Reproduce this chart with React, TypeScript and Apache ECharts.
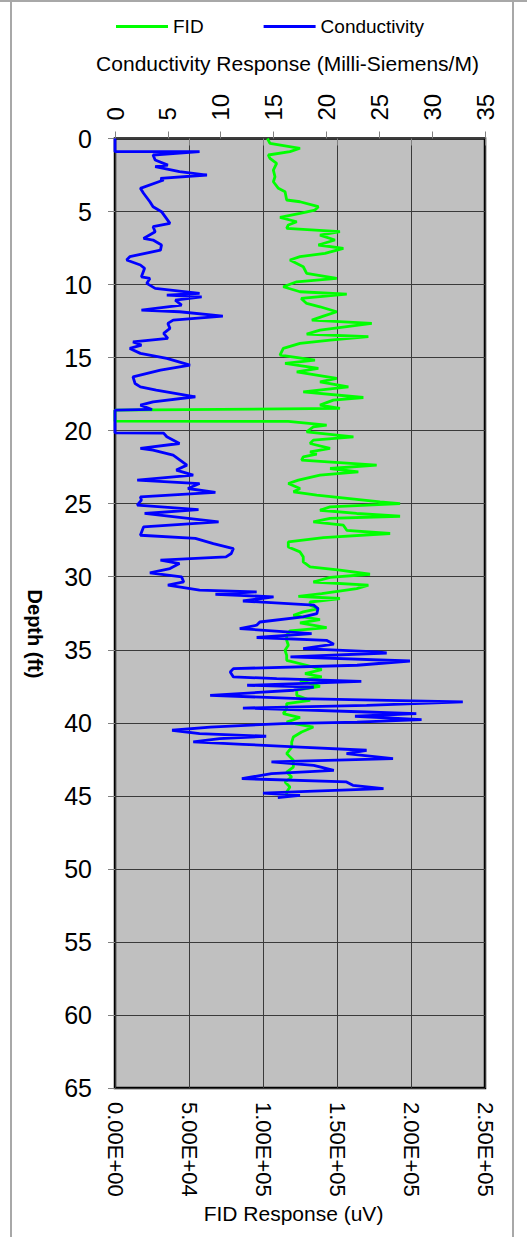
import React, { useEffect, useRef } from "react";
import * as echarts from "echarts";

// FID (green) — depth (ft) and response (thousands of uV)
const fidDepth = [
  0, 0.33, 0.67, 0.9, 1.13, 1.36, 1.7, 2.16, 2.62, 2.96,
  3.41, 3.64, 4.21, 4.33, 4.67, 4.9, 5.12, 5.4, 5.7, 5.92,
  6.15, 6.38, 6.61, 6.95, 7.29, 7.52, 7.86, 8.09, 8.32, 8.78,
  9.23, 9.58, 9.81, 10.15, 10.49, 10.65, 10.95, 11.29, 11.52, 11.86,
  12.16, 12.43, 12.66, 13.12, 13.39, 13.57, 13.8, 14.03, 14.37, 14.83,
  15.17, 15.4, 15.74, 15.97, 16.42, 16.66, 17.0, 17.34, 17.73, 17.91,
  18.25, 18.48, 18.6, 19.35, 19.37, 19.62, 19.74, 20.08, 20.42, 20.65,
  20.88, 21.22, 21.45, 21.61, 21.79, 22.02, 22.36, 22.59, 22.82, 23.05,
  23.39, 23.62, 23.96, 24.19, 24.42, 24.88, 24.99, 25.22, 25.45, 25.67,
  25.86, 26.01, 26.25, 26.47, 26.82, 27.04, 27.32, 27.62, 27.96, 28.3,
  28.64, 28.99, 29.33, 29.55, 29.83, 30.05, 30.36, 30.58, 30.81, 31.15,
  31.34, 31.49, 31.73, 31.95, 32.18, 32.41, 32.64, 32.93, 33.16, 33.48,
  33.71, 34.01, 34.35, 34.69, 35.03, 35.38, 35.72, 36.06, 36.36, 36.63,
  36.86, 37.09, 37.5, 37.77, 38.12, 38.46, 38.68, 39.03, 39.37, 39.64,
  39.95, 40.29, 40.63, 40.97, 41.32, 41.66, 42.11, 42.57, 43.03, 43.37,
  43.71, 44.05, 44.4, 44.74, 45.08,
];
const fidValueK = [
  103, 104.7, 125, 118.2, 103.6, 104.7, 109.2, 107, 108.1, 107,
  110.4, 114.9, 116, 125, 137.4, 135.1, 125, 111.5, 122.8, 117.1,
  116, 152, 138.5, 148.6, 137.4, 154.3, 141.9, 125, 118.2, 127.2,
  129.5, 149.8, 122.8, 113.7, 125, 156.6, 125.8, 129.5, 138.5, 149.8,
  140.8, 133, 173.5, 138.5, 129.5, 171.2, 145.3, 125, 113.7, 111.5,
  135.1, 114.9, 137.4, 122.8, 149.8, 138.5, 157.7, 127.2, 167.8, 147.5,
  138.5, 152, 0, 0, 117.1, 143, 134, 129.5, 161.1, 134,
  131.8, 145.3, 131.8, 136.3, 127.2, 126.1, 176.8, 145.3, 164.4, 138.5,
  123.9, 117.1, 125, 120.6, 136.3, 179.1, 192.6, 145.3, 138.5, 163.3,
  192.6, 145.3, 134, 154.3, 156.6, 185.9, 140.8, 117.1, 117.1, 125,
  127.2, 127.2, 131.8, 152, 172.3, 145.3, 134, 171.2, 163.3, 139.7,
  123.9, 152, 131.8, 131.8, 137.4, 127.2, 120.5, 138.5, 125, 143,
  118.2, 116, 116, 117.1, 114.9, 116, 116, 129.5, 139.7, 128.4,
  139.7, 125, 138.5, 122.8, 122.8, 131.8, 116, 116, 113.7, 125,
  116, 134, 126.1, 120.5, 119.4, 119.4, 116, 120.5, 120.5, 116,
  119.4, 114.9, 118.2, 116, 116,
];

// Conductivity (blue) — depth (ft) and response (mS/m)
const condDepth = [
  0, 0.9, 0.9, 1.13, 1.47, 1.82, 1.93, 2.27, 2.5, 2.73,
  2.84, 3.41, 3.75, 4.33, 4.67, 5.01, 5.81, 6.04, 6.38, 6.84,
  6.95, 7.29, 7.64, 8.09, 8.32, 8.66, 8.89, 9.47, 9.58, 9.92,
  10.26, 10.6, 10.72, 10.84, 11.06, 11.4, 11.75, 11.86, 12.16, 12.43,
  12.66, 13.0, 13.34, 13.68, 13.92, 14.14, 14.37, 14.71, 15.05, 15.51,
  15.86, 16.32, 16.77, 17.0, 17.23, 17.68, 18.03, 18.25, 18.55, 18.6,
  20.15, 20.17, 20.42, 20.88, 21.22, 21.34, 21.68, 22.36, 22.7, 23.05,
  23.39, 23.62, 23.96, 24.23, 24.53, 24.76, 25.1, 25.4, 25.67, 26.25,
  26.59, 27.16, 27.38, 27.73, 28.07, 28.41, 28.64, 28.87, 29.1, 29.44,
  29.74, 30.01, 30.36, 30.58, 30.92, 31.04, 31.2, 31.38, 31.66, 31.95,
  32.18, 32.52, 32.75, 33.1, 33.32, 33.55, 33.89, 34.16, 34.35, 34.62,
  34.92, 35.15, 35.22, 35.49, 35.77, 36.06, 36.29, 36.52, 36.86, 36.97,
  37.16, 37.43, 37.55, 37.77, 38.12, 38.34, 38.57, 38.8, 38.99, 39.26,
  39.37, 39.55, 39.78, 39.95, 40.05, 40.29, 40.51, 40.74, 40.92, 41.08,
  41.31, 41.47, 41.66, 41.88, 42.11, 42.45, 42.68, 42.91, 43.25, 43.48,
  43.82, 44.05, 44.28, 44.51, 44.67, 44.81, 44.97, 45.12,
];
const condValue = [
  0, 0, 8.0, 3.6, 3.8, 5.0, 3.8, 6.1, 8.7, 4.3,
  4.6, 2.4, 2.7, 3.3, 3.6, 4.4, 5.2, 3.6, 3.8, 2.7,
  3.6, 4.4, 4.3, 1.4, 1.1, 2.4, 2.8, 2.5, 3.3, 3.0,
  3.8, 8.0, 4.9, 8.2, 5.7, 6.3, 2.5, 6.1, 10.2, 5.5,
  5.0, 5.2, 4.6, 5.0, 1.7, 2.5, 1.4, 2.4, 4.9, 7.1,
  4.3, 1.7, 1.9, 2.4, 3.9, 7.6, 3.6, 2.4, 3.5, 0,
  0, 4.6, 4.9, 6.1, 2.4, 3.6, 5.5, 6.8, 5.8, 7.4,
  2.1, 8.0, 6.9, 9.5, 2.4, 2.5, 2.1, 7.9, 2.8, 9.8,
  2.7, 2.4, 7.6, 9.3, 11.2, 11.0, 10.5, 4.3, 6.1, 5.2,
  3.3, 6.3, 6.5, 5.0, 8.0, 13.4, 9.5, 15.0, 12.1, 18.8,
  19.2, 19.1, 17.8, 13.7, 13.4, 11.8, 18.6, 13.4, 20.0, 20.7,
  17.8, 24.8, 25.7, 16.6, 27.9, 22.9, 11.2, 10.9, 11.2, 15.3,
  23.3, 12.5, 18.8, 16.9, 9.0, 17.5, 32.9, 23.8, 12.1, 23.8,
  28.5, 22.7, 29.0, 22.9, 15.9, 9.0, 5.4, 8.0, 14.3, 9.9,
  7.4, 12.1, 17.5, 23.8, 21.9, 26.3, 14.8, 18.8, 20.7, 14.8,
  12.0, 21.9, 22.5, 25.4, 18.8, 14.0, 17.5, 15.4,
];

const depthTicks = { min: 0, max: 65, interval: 5 };
const fidTicks = { min: 0, max: 250000, interval: 50000 };
const condTicks = { min: 0, max: 35, interval: 5 };

const FONT = '"Liberation Sans", Arial, Helvetica, sans-serif';

function sci(v: number): string {
  const [m, e] = v.toExponential(2).split("e");
  const sign = e[0] === "-" ? "-" : "+";
  const digits = e.replace(/[+-]/, "").padStart(2, "0");
  return `${m}E${sign}${digits}`;
}

export default function App() {
  const ref = useRef<HTMLDivElement>(null);

  useEffect(() => {
    if (!ref.current) return;
    const chart = echarts.init(ref.current, null, { renderer: "svg" });
    const tickStyle = { color: "#808080", width: 1 };
    const splitStyle = { color: "#3a3a3a", width: 1 };

    chart.setOption({
      animation: false,
      textStyle: { fontFamily: FONT },
      legend: {
        data: [
          { name: "FID", icon: "rect" },
          { name: "Conductivity", icon: "rect" },
        ],
        left: 116,
        top: 17,
        padding: 0,
        itemWidth: 52,
        itemHeight: 3,
        itemGap: 60,
        textStyle: { fontSize: 19, color: "#000", fontFamily: FONT },
      },
      grid: {
        left: 115,
        top: 138.5,
        width: 370,
        height: 949.5,
        show: true,
        backgroundColor: "#C0C0C0",
        borderColor: "#000",
        borderWidth: 2.5,
      },
      xAxis: [
        {
          type: "value",
          position: "bottom",
          ...fidTicks,
          axisLine: { show: false },
          axisTick: { show: true, length: 7, lineStyle: tickStyle },
          splitLine: { show: true, lineStyle: splitStyle },
          axisLabel: {
            rotate: -90,
            fontSize: 22,
            margin: 14,
            color: "#000",
            fontFamily: FONT,
            formatter: (v: number) => sci(v),
          },
        },
        {
          type: "value",
          position: "top",
          ...condTicks,
          axisLine: { show: false },
          axisTick: { show: true, length: 7, lineStyle: tickStyle },
          splitLine: { show: false },
          axisLabel: {
            rotate: -90,
            fontSize: 24,
            margin: 18,
            color: "#000",
            fontFamily: FONT,
          },
        },
      ],
      yAxis: {
        type: "value",
        inverse: true,
        ...depthTicks,
        axisLine: { show: false },
        axisTick: { show: true, length: 7, lineStyle: tickStyle },
        splitLine: { show: true, lineStyle: splitStyle },
        axisLabel: { fontSize: 25, margin: 23, color: "#000", fontFamily: FONT },
      },
      graphic: [
        { type: "line", shape: { x1: 0, y1: 1, x2: 527, y2: 1 }, style: { stroke: "#a8a8a8", lineWidth: 2 }, silent: true },
        { type: "line", shape: { x1: 11, y1: 0, x2: 11, y2: 1237 }, style: { stroke: "#a8a8a8", lineWidth: 2 }, silent: true },
        { type: "line", shape: { x1: 513, y1: 0, x2: 513, y2: 1237 }, style: { stroke: "#a8a8a8", lineWidth: 2 }, silent: true },
        {
          type: "text",
          x: 287.5,
          y: 63,
          style: {
            text: "Conductivity Response (Milli-Siemens/M)",
            font: `21px ${FONT}`,
            fill: "#000",
            textAlign: "center",
            textVerticalAlign: "middle",
          },
        },
        {
          type: "text",
          x: 293.5,
          y: 1213,
          style: {
            text: "FID Response (uV)",
            font: `21px ${FONT}`,
            fill: "#000",
            textAlign: "center",
            textVerticalAlign: "middle",
          },
        },
        {
          type: "text",
          x: 35,
          y: 634,
          rotation: -Math.PI / 2,
          style: {
            text: "Depth (ft)",
            font: `bold 20px ${FONT}`,
            fill: "#000",
            textAlign: "center",
            textVerticalAlign: "middle",
          },
        },
      ],
      series: [
        {
          name: "FID",
          type: "line",
          xAxisIndex: 0,
          yAxisIndex: 0,
          symbol: "none",
          data: fidDepth.map((d, i) => [fidValueK[i] * 1000, d]),
          lineStyle: { color: "#00FF00", width: 2.8 },
          itemStyle: { color: "#00FF00" },
        },
        {
          name: "Conductivity",
          type: "line",
          xAxisIndex: 1,
          yAxisIndex: 0,
          symbol: "none",
          data: condDepth.map((d, i) => [condValue[i], d]),
          lineStyle: { color: "#0000FF", width: 2.8 },
          itemStyle: { color: "#0000FF" },
        },
      ],
    });
    return () => chart.dispose();
  }, []);

  return (
    <div
      ref={ref}
      style={{ position: "absolute", left: 0, top: 0, width: 527, height: 1237, background: "#fff" }}
    />
  );
}
